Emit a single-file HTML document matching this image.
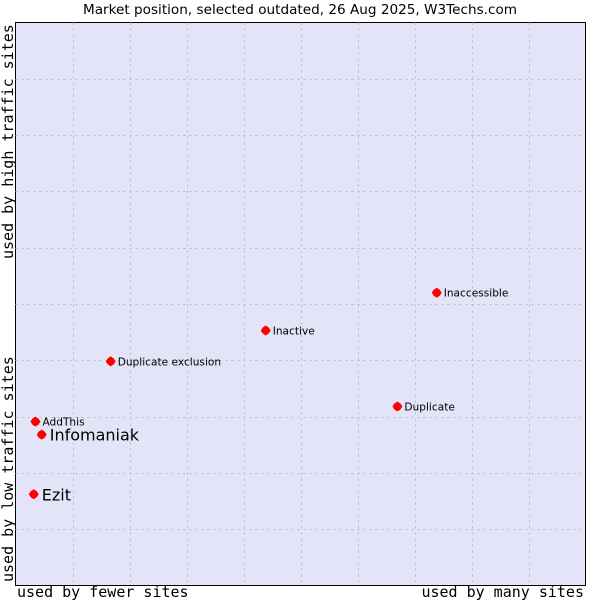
<!DOCTYPE html>
<html><head><meta charset="utf-8"><style>
body{margin:0;background:#fff}
svg{display:block}
</style></head><body>
<svg id="chart" width="600" height="600" xmlns="http://www.w3.org/2000/svg">
<text x="83" y="14" textLength="434" lengthAdjust="spacingAndGlyphs" font-family="DejaVu Sans, sans-serif" font-size="13" fill="#000">Market position, selected outdated, 26 Aug 2025, W3Techs.com</text>
<rect x="15.5" y="22.5" width="570" height="563" fill="#e4e4f8" stroke="#000" stroke-width="1"/>
<g id="grid"></g>
<g id="points"></g>
<text x="17" y="597" font-family="DejaVu Sans Mono, monospace" font-size="15" fill="#000">used by fewer sites</text>
<text x="584" y="597" text-anchor="end" font-family="DejaVu Sans Mono, monospace" font-size="15" fill="#000">used by many sites</text>
<text transform="translate(13,582) rotate(-90)" font-family="DejaVu Sans Mono, monospace" font-size="15" fill="#000">used by low traffic sites</text>
<text transform="translate(13,259) rotate(-90)" font-family="DejaVu Sans Mono, monospace" font-size="15" fill="#000">used by high traffic sites</text>
</svg>
<script>
const names=["Ezit","Infomaniak","AddThis","Duplicate exclusion","Inactive","Duplicate","Inaccessible"];
const xValues=[3.2,4.6,3.5,16.7,43.9,67.0,73.9];
const yValues=[16.2,26.8,29.1,39.8,45.3,31.8,52.0];
const highlighted=[true,true,false,false,false,false,false];
const L=15.5,T=22.5,W=570,H=563;
const sx=v=>L+v/100*W, sy=v=>T+H-v/100*H;
const NS="http://www.w3.org/2000/svg";
const g=document.getElementById('grid');
for(let i=1;i<10;i++){
  const lx=document.createElementNS(NS,'line');
  
  
  lx.setAttribute('x1',Math.round(sx(i*10))+0.5);lx.setAttribute('x2',Math.round(sx(i*10))+0.5);
  lx.setAttribute('y1',T);lx.setAttribute('y2',T+H);
  lx.setAttribute('stroke','#bbbbbb');lx.setAttribute('stroke-dasharray','2,4');
  g.appendChild(lx);
  const ly=document.createElementNS(NS,'line');
  
  
  ly.setAttribute('y1',Math.round(sy(i*10))+0.5);ly.setAttribute('y2',Math.round(sy(i*10))+0.5);
  ly.setAttribute('x1',L);ly.setAttribute('x2',L+W);
  ly.setAttribute('stroke','#bbbbbb');ly.setAttribute('stroke-dasharray','2,4');
  g.appendChild(ly);
}
const p=document.getElementById('points');
names.forEach((n,i)=>{
  const x=sx(xValues[i]),y=sy(yValues[i]);
  const c=document.createElementNS(NS,'polygon');
  
  
  c.setAttribute('points',`${x},${y-5} ${x+3},${y-3} ${x+5},${y} ${x+3},${y+3} ${x},${y+5} ${x-3},${y+3} ${x-5},${y} ${x-3},${y-3}`);
  c.setAttribute('fill','#ff0000');
  p.appendChild(c);
  const t=document.createElementNS(NS,'text');
  
  
  t.setAttribute('x',x+(highlighted[i]?8:7));
  t.setAttribute('y',y+(highlighted[i]?6:4));
  t.setAttribute('font-family','DejaVu Sans, sans-serif');
  t.setAttribute('font-size',highlighted[i]?16:10.6);
  t.textContent=n;
  p.appendChild(t);
});
</script>
</body></html>
